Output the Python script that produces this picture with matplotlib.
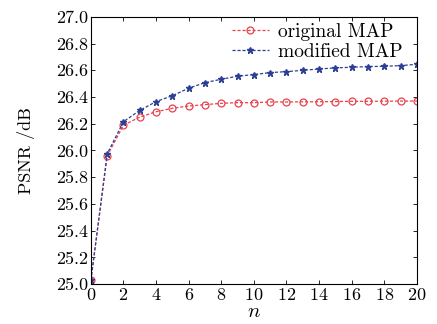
import matplotlib
matplotlib.use("Agg")
import matplotlib.pyplot as plt
import numpy as np

plt.rcParams['font.family'] = ['cmr10', 'DejaVu Serif']
plt.rcParams['mathtext.fontset'] = 'cm'
plt.rcParams['axes.formatter.use_mathtext'] = True

n = np.arange(0, 21)
original_map = [25.03, 25.96, 26.19, 26.25, 26.29, 26.316, 26.333, 26.343, 26.353, 26.358,
                26.358, 26.363, 26.363, 26.364, 26.365, 26.366, 26.368, 26.368, 26.369, 26.37, 26.37]
modified_map = [25.03, 25.975, 26.216, 26.30, 26.366, 26.41, 26.466, 26.508, 26.533, 26.556,
                26.568, 26.583, 26.59, 26.60, 26.61, 26.618, 26.623, 26.628, 26.63, 26.635, 26.645]

fig = plt.figure(figsize=(4.37, 3.24), dpi=100)
ax = fig.add_axes([0.208, 0.123, 0.746, 0.825])

ax.plot(n, original_map, linestyle=(0, (2.5, 1.5)), color='#e8424c', marker='o', markersize=5,
        markerfacecolor='none', markeredgewidth=0.9, linewidth=0.9, label='original MAP')
ax.plot(n, modified_map, linestyle=(0, (2.5, 1.5)), color='#2b3f95', marker='*', markersize=5,
        linewidth=0.9, label='modified MAP')

ax.set_xlim(0, 20)
ax.set_ylim(25.0, 27.0)
ax.set_xticks(np.arange(0, 21, 2))
ax.set_yticks(np.arange(25.0, 27.01, 0.2))
ax.yaxis.set_major_formatter(matplotlib.ticker.FormatStrFormatter('%.1f'))
ax.tick_params(direction='in', top=True, right=True, labelsize=13, length=3, width=0.6, pad=2)
for s in ax.spines.values():
    s.set_linewidth(0.8)

ax.set_xlabel(r'$n$', fontsize=15, labelpad=0)
ax.set_ylabel('PSNR /dB', fontsize=13, labelpad=15)
ax.legend(loc='upper right', bbox_to_anchor=(0.975, 1.0), frameon=False, fontsize=14,
          handlelength=1.9, handletextpad=0.5, borderaxespad=0.0, borderpad=0.3,
          labelspacing=0.1)

fig.savefig('out.png', dpi=100)
